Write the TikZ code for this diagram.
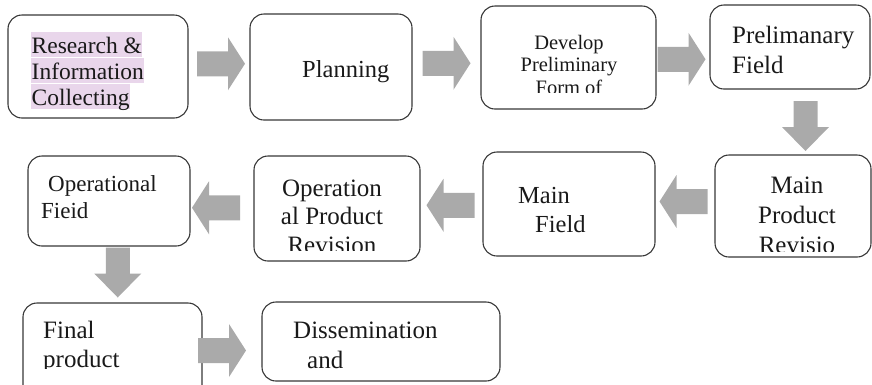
\documentclass[tikz,border=0pt]{standalone}
\usepackage{fontspec}
\setmainfont{Liberation Serif}
\usetikzlibrary{calc}

\definecolor{boxline}{RGB}{55,55,55}
\definecolor{arrowgray}{RGB}{170,170,170}
\definecolor{hilite}{RGB}{233,214,235}

\tikzset{
  stepbox/.style={draw=boxline, line width=1.1pt, rounded corners=14pt, inner sep=0pt},
  steptext/.style={inner sep=0pt, text=black!90, font=\fontsize{25}{29}\selectfont},
  hiline/.style={steptext, fill=hilite, font=\fontsize{23.5}{26}\selectfont,
    anchor=base west, inner xsep=0.5pt, text height=21.5pt, text depth=4pt},
  % block arrows, drawn pointing right, turned with rotate
  harrow/.pic={\fill[arrowgray] (-24,-12.5) -- (7,-12.5) -- (7,-26.5) -- (24,0)
    -- (7,26.5) -- (7,12.5) -- (-24,12.5) -- cycle;},
  varrow/.pic={\fill[arrowgray] (-25,-12) -- (1,-12) -- (1,-23.5) -- (25,0)
    -- (1,23.5) -- (1,12) -- (-25,12) -- cycle;},
}

\begin{document}
\begin{tikzpicture}[x=1pt,y=-1pt]
\clip (0,0) rectangle (872,384);

% Boxes, first row
\node[stepbox, minimum width=180pt, minimum height=103pt] (research) at (98,66.5) {};
\node[stepbox, minimum width=162pt, minimum height=106pt] (planning) at (331,67) {};
\node[stepbox, minimum width=175pt, minimum height=103pt] (develop) at (568.5,57.5) {};
\node[stepbox, minimum width=160pt, minimum height=84pt] (prelim) at (790,47) {};

% Boxes, second row
\node[stepbox, minimum width=156pt, minimum height=102pt] (mainrev) at (793,206) {};
\node[stepbox, minimum width=172pt, minimum height=104pt] (mainfield) at (569,204) {};
\node[stepbox, minimum width=166pt, minimum height=105pt] (oprev) at (337,208.5) {};
\node[stepbox, minimum width=162pt, minimum height=90pt] (opfield) at (109,201) {};

% Boxes, third row
\node[stepbox, minimum width=179pt, minimum height=97pt] (finalprod) at (112.5,351.5) {};
\node[stepbox, minimum width=238pt, minimum height=79pt] (dissem) at (381,341.5) {};

% Texts (base = baseline of the last line)
\node[hiline] (research-t1) at (31,53) {Research \&};
\node[hiline] (research-t2) at (31,79) {Information};
\node[hiline] (research-t3) at (31,105) {Collecting};
\node[steptext, font=\fontsize{24.5}{29}\selectfont, anchor=base west] (planning-t) at (302,77) {Planning};
\begin{scope}
  \clip (481,6) rectangle (656,92.5);
  \node[steptext, font=\fontsize{20.5}{22.5}\selectfont, align=center, anchor=base] (develop-t) at (569,94) {Develop\\Preliminary\\Form of};
\end{scope}
\node[steptext, font=\fontsize{25}{30}\selectfont, align=left, anchor=base west] (prelim-t) at (732,73) {Prelimanary\\Field};
\begin{scope}
  \clip (715,155) rectangle (872,251);
  \node[steptext, font=\fontsize{25}{30}\selectfont, align=center, anchor=base] (mainrev-t) at (797,253) {Main\\Product\\Revisio};
\end{scope}
\node[steptext, font=\fontsize{24.5}{29}\selectfont, align=left, anchor=base west] (mainfield-t) at (518,232) {Main\\\hspace*{17pt}Field};
\begin{scope}
  \clip (254,156) rectangle (420,250);
  \node[steptext, font=\fontsize{25}{28.5}\selectfont, align=center, anchor=base] (oprev-t) at (332,253) {Operation\\al Product\\Revision};
\end{scope}
\node[steptext, font=\fontsize{23}{27}\selectfont, align=left, anchor=base west] (opfield-t) at (41,218) {\hspace*{7pt}Operational\\Fieid};
\begin{scope}
  \clip (23,303) rectangle (202,368.5);
  \node[steptext, font=\fontsize{25}{29.5}\selectfont, align=left, anchor=base west] (finalprod-t) at (43,367.5) {Final\\product};
\end{scope}
\node[steptext, font=\fontsize{25}{30}\selectfont, align=left, anchor=base west] (dissem-t) at (293,368) {Dissemination\\\hspace*{14pt}and};

% Block arrows
\pic (a1) at ($(research.east)!0.5!(planning.west)+(2,-3)$) {harrow};
\pic (a2) at ($(planning.east)!0.5!(develop.west)+(0,1)$) {harrow};
\pic (a3) at ($(develop.east)!0.5!(prelim.west)+(-1.5,7)$) {harrow};
\pic[rotate=-90] (a4) at ($(prelim.south)!0.5!(mainrev.north)+(14,4)$) {varrow};
\pic[rotate=180] (a5) at ($(mainrev.west)!0.5!(mainfield.east)+(-1.5,-3.5)$) {harrow};
\pic[rotate=180] (a6) at ($(mainfield.west)!0.5!(oprev.east)+(-1,-1)$) {harrow};
\pic[rotate=180] (a7) at ($(oprev.west)!0.5!(opfield.east)+(-6,3)$) {harrow};
\pic[rotate=-90] (a8) at ($(opfield.south)!0.5!(finalprod.north)+(7,-2)$) {varrow};
\pic (a9) at ($(finalprod.east)!0.5!(dissem.west)+(-10,4)$) {harrow};

\end{tikzpicture}
\end{document}
